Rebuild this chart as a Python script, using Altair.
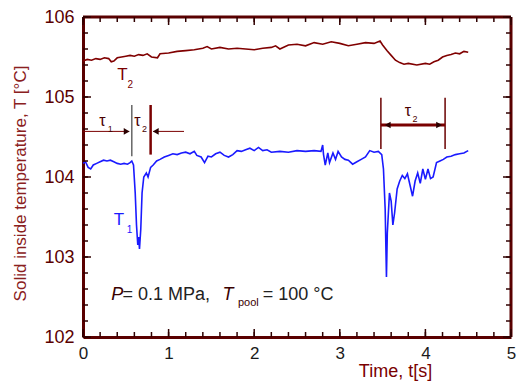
import altair as alt
import pandas as pd

# ---- data ----
t1_time = [0.00, 0.03, 0.06, 0.09, 0.12, 0.16, 0.20, 0.24, 0.28, 0.32, 0.36, 0.40, 0.44, 0.48, 0.52, 0.55,
           0.57, 0.59, 0.61, 0.625, 0.64, 0.65, 0.66, 0.675, 0.69, 0.71, 0.74, 0.76, 0.79, 0.82, 0.86, 0.90,
           0.95, 1.00, 1.05, 1.10, 1.15, 1.20, 1.25, 1.30, 1.33, 1.38, 1.42, 1.46, 1.50, 1.55, 1.60, 1.65,
           1.70, 1.75, 1.80, 1.85, 1.90, 1.95, 2.00, 2.05, 2.10, 2.15, 2.20, 2.30, 2.40, 2.50, 2.60, 2.70,
           2.78, 2.80, 2.81, 2.83, 2.86, 2.88, 2.92, 2.95, 2.98, 3.02, 3.06, 3.10, 3.15, 3.20, 3.25, 3.30,
           3.35, 3.40, 3.45, 3.49, 3.51, 3.53, 3.545, 3.555, 3.58, 3.60, 3.62, 3.64, 3.67, 3.70, 3.73, 3.76,
           3.79, 3.82, 3.85, 3.88, 3.91, 3.94, 3.97, 4.00, 4.03, 4.06, 4.09, 4.13, 4.17, 4.21, 4.25, 4.30,
           4.35, 4.40, 4.45, 4.50]
t1_temp = [104.17, 104.19, 104.12, 104.10, 104.15, 104.17, 104.19, 104.21, 104.20, 104.21, 104.19, 104.17,
           104.16, 104.17, 104.16, 104.18, 104.20, 104.15, 103.80, 103.40, 103.15, 103.25, 103.10, 103.35,
           103.80, 104.00, 104.05, 104.00, 104.12, 104.15, 104.20, 104.22, 104.25, 104.27, 104.29, 104.28,
           104.30, 104.31, 104.29, 104.32, 104.27, 104.25, 104.18, 104.26, 104.25, 104.29, 104.31, 104.27,
           104.25, 104.28, 104.33, 104.32, 104.34, 104.36, 104.33, 104.37, 104.33, 104.34, 104.31, 104.32,
           104.31, 104.33, 104.32, 104.33, 104.32, 104.40, 104.28, 104.15, 104.30, 104.18, 104.30, 104.22,
           104.32, 104.25, 104.22, 104.21, 104.16, 104.19, 104.22, 104.25, 104.33, 104.31, 104.32, 104.28,
           104.10, 103.60, 102.75, 103.30, 103.80, 103.70, 103.40, 103.55, 103.85, 103.95, 104.02, 103.98,
           104.04, 103.90, 103.76, 103.95, 104.05, 103.92, 104.10, 103.97, 104.10, 103.98, 104.00, 104.18,
           104.20, 104.22, 104.25, 104.26, 104.28, 104.29, 104.30, 104.33]

t2_time = [0.00, 0.05, 0.10, 0.15, 0.20, 0.25, 0.30, 0.33, 0.36, 0.40, 0.45, 0.50, 0.55, 0.60, 0.65, 0.70,
           0.75, 0.80, 0.87, 0.90, 1.00, 1.10, 1.20, 1.30, 1.40, 1.45, 1.50, 1.60, 1.70, 1.80, 1.90, 2.00,
           2.10, 2.20, 2.25, 2.30, 2.40, 2.50, 2.60, 2.70, 2.80, 2.90, 3.00, 3.10, 3.20, 3.30, 3.40, 3.47,
           3.50, 3.55, 3.60, 3.65, 3.70, 3.75, 3.80, 3.90, 4.00, 4.05, 4.10, 4.15, 4.20, 4.25, 4.30, 4.35,
           4.40, 4.45, 4.50]
t2_temp = [105.45, 105.47, 105.46, 105.48, 105.47, 105.49, 105.48, 105.44, 105.45, 105.49, 105.50, 105.51,
           105.52, 105.51, 105.53, 105.52, 105.54, 105.50, 105.49, 105.54, 105.55, 105.57, 105.58, 105.59,
           105.61, 105.63, 105.60, 105.62, 105.60, 105.61, 105.60, 105.59, 105.61, 105.62, 105.64, 105.60,
           105.65, 105.66, 105.64, 105.68, 105.66, 105.69, 105.67, 105.64, 105.66, 105.68, 105.67, 105.70,
           105.65, 105.58, 105.52, 105.46, 105.43, 105.41, 105.42, 105.40, 105.42, 105.41, 105.44, 105.46,
           105.50, 105.52, 105.53, 105.55, 105.54, 105.57, 105.56]

x_major = [0, 1, 2, 3, 4, 5]
y_major = [102, 103, 104, 105, 106]
x_minor = [round(0.2 * i, 1) for i in range(26)]
y_minor = [round(102 + 0.2 * i, 1) for i in range(21)]

# annotation geometry (data units)
rule_x = [0.57, 0.79, 3.48, 4.23]
rule_y1 = [104.90, 104.90, 104.99, 104.99]
rule_y2 = [104.26, 104.28, 104.35, 104.35]
rule_color = ["#666666", "#7a0000", "#6a0000", "#6a0000"]
rule_width = [1.5, 2.5, 1.5, 1.5]

hline_x1 = [0.0, 0.82, 3.48]
hline_x2 = [0.54, 1.18, 4.23]
hline_y = [104.57, 104.57, 104.65]
hline_width = [1.0, 1.0, 3.0]

arrow_x = [0.51, 0.85, 3.56, 4.16]
arrow_y = [104.57, 104.57, 104.65, 104.65]
arrow_shape = ["triangle-right", "triangle-left", "triangle-left", "triangle-right"]

RED = "#7a0000"
FRAME = "#5a0000"
BLUE = "#1a1aff"
TICK = "#300000"
FONT = "Liberation Sans"
W, H = 428, 320
X0, X1, Y0, Y1 = 0, 5, 102, 106
xs = alt.Scale(domain=[X0, X1], nice=False, zero=False)
ys = alt.Scale(domain=[Y0, Y1], nice=False, zero=False)

# tick lengths expressed in axis units (major ~8 px, minor ~5 px)
XT_MAJ, XT_MIN = (X1 - X0) * 8 / W, (X1 - X0) * 5 / W
YT_MAJ, YT_MIN = (Y1 - Y0) * 8 / H, (Y1 - Y0) * 5 / H

df = pd.concat([
    pd.DataFrame({"t": t1_time, "T": t1_temp, "s": "T1"}),
    pd.DataFrame({"t": t2_time, "T": t2_temp, "s": "T2"}),
])

lines = alt.Chart(df).mark_line(strokeWidth=1.6).encode(
    x=alt.X("t:Q", scale=xs, axis=alt.Axis(
        values=x_major, ticks=False, domain=True, domainColor=FRAME, domainWidth=3, grid=False,
        labelFlush=False, title="Time, t[s]", labelFont=FONT, labelFontSize=17, labelColor="#1a1a1a",
        labelPadding=8, titleFont=FONT, titleFontSize=18, titleFontWeight="normal",
        titleColor=RED, titleX=312, titleY=25, titleAlign="center", titleBaseline="top")),
    y=alt.Y("T:Q", scale=ys, axis=alt.Axis(
        values=y_major, ticks=False, domain=True, domainColor=FRAME, domainWidth=3, grid=False,
        title="Solid inside temperature, T [°C]", labelFont=FONT, labelFontSize=18,
        labelColor="#5a0000", labelPadding=9, titleFont=FONT, titleFontSize=17,
        titleFontWeight="normal", titleColor="#8a2020", titlePadding=14, titleY=166)),
    color=alt.Color("s:N", scale=alt.Scale(domain=["T1", "T2"], range=[BLUE, "#800000"]), legend=None),
    detail="s:N",
)

# top and right edges of the frame
frame_top = alt.Chart(pd.DataFrame({"a": [X0], "b": [X1], "y": [Y1]})).mark_rule(
    color=FRAME, strokeWidth=3).encode(
    x=alt.X("a:Q", scale=xs, axis=None), x2="b:Q", y=alt.Y("y:Q", scale=ys, axis=None))
frame_right = alt.Chart(pd.DataFrame({"a": [Y0], "b": [Y1], "x": [X1]})).mark_rule(
    color=FRAME, strokeWidth=3).encode(
    y=alt.Y("a:Q", scale=ys, axis=None), y2="b:Q", x=alt.X("x:Q", scale=xs, axis=None))


def xticks(vals, base, length):
    d = pd.DataFrame({"v": vals, "a": [base] * len(vals), "b": [base + length] * len(vals)})
    return alt.Chart(d).mark_rule(color=TICK, strokeWidth=1.5).encode(
        x=alt.X("v:Q", scale=xs, axis=None), y=alt.Y("a:Q", scale=ys, axis=None), y2="b:Q")


def yticks(vals, base, length):
    d = pd.DataFrame({"v": vals, "a": [base] * len(vals), "b": [base + length] * len(vals)})
    return alt.Chart(d).mark_rule(color=TICK, strokeWidth=1.5).encode(
        y=alt.Y("v:Q", scale=ys, axis=None), x=alt.X("a:Q", scale=xs, axis=None), x2="b:Q")


ticks = [
    xticks(x_major, Y0, YT_MAJ), xticks(x_minor, Y0, YT_MIN),
    xticks(x_major, Y1, -YT_MAJ), xticks(x_minor, Y1, -YT_MIN),
    yticks(y_major, X0, XT_MAJ), yticks(y_minor, X0, XT_MIN),
    yticks(y_major, X1, -XT_MAJ), yticks(y_minor, X1, -XT_MIN),
]

rules = alt.Chart(pd.DataFrame({"x": rule_x, "y1": rule_y1, "y2": rule_y2, "c": rule_color,
                                "w": rule_width})).mark_rule().encode(
    x=alt.X("x:Q", scale=xs, axis=None), y=alt.Y("y1:Q", scale=ys, axis=None), y2="y2:Q",
    color=alt.Color("c:N", scale=None), strokeWidth=alt.StrokeWidth("w:Q", scale=None))

hlines = alt.Chart(pd.DataFrame({"x1": hline_x1, "x2": hline_x2, "y": hline_y, "w": hline_width})).mark_rule(
    color=RED).encode(
    x=alt.X("x1:Q", scale=xs, axis=None), x2="x2:Q", y=alt.Y("y:Q", scale=ys, axis=None),
    strokeWidth=alt.StrokeWidth("w:Q", scale=None))

arrows = alt.Chart(pd.DataFrame({"x": arrow_x, "y": arrow_y, "sh": arrow_shape})).mark_point(
    filled=True, size=45, color="#2a0000", opacity=1).encode(
    x=alt.X("x:Q", scale=xs, axis=None), y=alt.Y("y:Q", scale=ys, axis=None),
    shape=alt.Shape("sh:N", scale=None))


def texts(tx, ty, labels, size, color, style="normal"):
    return alt.Chart(pd.DataFrame({"x": tx, "y": ty, "txt": labels})).mark_text(
        align="left", baseline="middle", font=FONT, fontSize=size, color=color, fontStyle=style).encode(
        x=alt.X("x:Q", scale=xs, axis=None), y=alt.Y("y:Q", scale=ys, axis=None), text="txt:N")


# series labels and tau labels
main_lbl_x = [0.40, 0.36]
main_lbl_y = [105.28, 103.46]
sub_lbl_x = [0.52, 0.51]
sub_lbl_y = [105.15, 103.34]

tau_x = [0.19, 0.60, 3.76]
tau_y = [104.70, 104.70, 104.83]
tau_sub_x = [0.29, 0.69, 3.85]
tau_sub_y = [104.60, 104.60, 104.73]
tau_sub = ["1", "2", "2"]

note_x = [0.33, 0.46, 1.63, 1.81, 2.10]
note_y = [102.53, 102.53, 102.53, 102.42, 102.53]

layers = [
    lines, frame_top, frame_right, *ticks, rules, hlines, arrows,
    texts([main_lbl_x[0]], [main_lbl_y[0]], ["T"], 17, RED),
    texts([sub_lbl_x[0]], [sub_lbl_y[0]], ["2"], 10, RED),
    texts([main_lbl_x[1]], [main_lbl_y[1]], ["T"], 17, BLUE),
    texts([sub_lbl_x[1]], [sub_lbl_y[1]], ["1"], 10, BLUE),
    texts(tau_x, tau_y, ["τ", "τ", "τ"], 16, "#4a0000"),
    texts(tau_sub_x, tau_sub_y, tau_sub, 9, "#4a0000"),
    texts([note_x[0]], [note_y[0]], ["P"], 18, "#3a0000", "italic"),
    texts([note_x[1]], [note_y[1]], ["= 0.1  MPa,"], 18, "#222222"),
    texts([note_x[2]], [note_y[2]], ["T"], 18, "#3a0000", "italic"),
    texts([note_x[3]], [note_y[3]], ["pool"], 11, "#3a0000"),
    texts([note_x[4]], [note_y[4]], ["= 100 °C"], 18, "#222222"),
]

chart = alt.layer(*layers).resolve_axis(x="independent", y="independent").properties(
    width=W, height=H, autosize=alt.AutoSizeParams(type="none"),
    padding={"left": 75, "top": 9, "right": 7, "bottom": 44},
).configure_view(strokeWidth=0)

chart.save("out.html", embed_options={"renderer": "svg", "actions": False})
